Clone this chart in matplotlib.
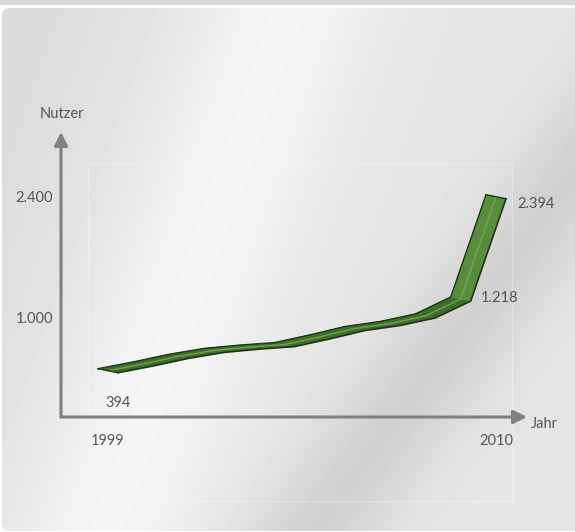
import numpy as np
import matplotlib
matplotlib.use('Agg')
import matplotlib.pyplot as plt
from matplotlib.patches import FancyBboxPatch, Rectangle, Polygon

# data
years = [1999, 2000, 2001, 2002, 2003, 2004, 2005, 2006, 2007, 2008, 2009, 2010]
users = [394, 472, 559, 627, 665, 694, 782, 879, 937, 1024, 1218, 2394]
x_ticks = [1999, 2010]
x_tick_labels = ['1999', '2010']
y_ticks = [1000, 2400]
y_tick_labels = ['1.000', '2.400']
label_years = [1999, 2009, 2010]
label_texts = ['394', '1.218', '2.394']

W, H = 575, 532
TXT = '#555555'
AXC = '#808080'
FS = 10.5
plt.rcParams['font.family'] = ['Lato', 'DejaVu Sans']

fig = plt.figure(figsize=(W / 100, H / 100), dpi=100, facecolor='white')

# background panel with a diagonal sheen
bg = fig.add_axes([0, 0, 1, 1])
bg.set_xlim(0, W)
bg.set_ylim(H, 0)
bg.axis('off')
gx, gy = np.meshgrid(np.arange(W), np.arange(H))
u1 = gx + 0.35 * gy
u2 = gx + 0.73 * gy
shade = (0.90
         + 0.06 * np.exp(-((u1 - 290) / 90) ** 2)
         - 0.04 * np.exp(-(u1 / 150) ** 2)
         - 0.08 * np.exp(-((u2 - 700) / 70) ** 2))
img = bg.imshow(shade, cmap='gray', vmin=0, vmax=1, extent=(0, W, H, 0),
                interpolation='bilinear', zorder=0, aspect='auto')
panel = FancyBboxPatch((2, 8), W + 10, H - 9, boxstyle='round,pad=0,rounding_size=8',
                       transform=bg.transData, facecolor='none', edgecolor='none')
bg.add_patch(panel)
img.set_clip_path(panel)
bg.add_patch(Rectangle((0, 0), W, 5, facecolor='#d8d8d8', edgecolor='none'))
bg.add_patch(Rectangle((88, 163), 424, 338, fill=False, edgecolor='white', alpha=0.3, lw=0.8))

bg.text(62, 114, 'Nutzer', color=TXT, fontsize=FS, ha='center', va='center')
bg.text(531, 424, 'Jahr', color=TXT, fontsize=FS, ha='left', va='center')

# chart axes
ax = fig.add_axes([61 / W, 1 - 417 / H, 466 / W, 285 / H])
ax.set_xlim(1997.667, 2010.879)
ax.set_ylim(-138, 3138)
ax.patch.set_visible(False)
for s in ax.spines.values():
    s.set_visible(False)
ax.set_xticks(x_ticks, x_tick_labels)
ax.set_yticks(y_ticks, y_tick_labels)
ax.tick_params(axis='both', length=0, colors=TXT, labelsize=FS)
ax.tick_params(axis='x', pad=12)
ax.tick_params(axis='y', pad=5.8)

arrow = dict(arrowstyle='-|>,head_length=0.8,head_width=0.4', color=AXC, lw=2.2,
             shrinkA=0, shrinkB=0)
ax.annotate('', xy=(1, 0), xytext=(0, 0), xycoords='axes fraction',
            arrowprops=arrow, annotation_clip=False)
ax.annotate('', xy=(0, 1), xytext=(0, 0), xycoords='axes fraction',
            arrowprops=arrow, annotation_clip=False)

# ribbon: band between two offset copies of the line (offset in pixels)
pts = ax.transData.transform(np.column_stack([years, users]))
inv = ax.transData.inverted()
top = inv.transform(pts + [-10, 2])
bot = inv.transform(pts + [10, -2])
for i in range(len(years) - 1):
    dx = pts[i + 1, 0] - pts[i, 0]
    dy = pts[i + 1, 1] - pts[i, 1]
    col = '#5a8c3e' if dy / dx > 1.5 else '#3f6d2b'
    quad = [top[i], top[i + 1], bot[i + 1], bot[i]]
    ax.add_patch(Polygon(quad, closed=True, facecolor=col, edgecolor=col, lw=0.4, zorder=3))
ax.plot(years, users, color='#78aa5a', lw=1.1, alpha=0.8, zorder=4)
edge = '#1f3416'
ax.plot(top[:, 0], top[:, 1], color=edge, lw=1.0, zorder=5)
ax.plot(bot[:, 0], bot[:, 1], color=edge, lw=1.2, zorder=5)
ax.plot([top[0, 0], bot[0, 0]], [top[0, 1], bot[0, 1]], color=edge, lw=1.0, zorder=5)
ax.plot([top[-1, 0], bot[-1, 0]], [top[-1, 1], bot[-1, 1]], color=edge, lw=1.0, zorder=5)

offsets = [(10, -32), (39, 1), (40, -7)]
for yr, txt, off in zip(label_years, label_texts, offsets):
    ax.annotate(txt, xy=(yr, users[years.index(yr)]), xytext=off,
                textcoords='offset pixels', ha='center', va='center',
                color=TXT, fontsize=FS)

fig.savefig('out.png', dpi=100)
